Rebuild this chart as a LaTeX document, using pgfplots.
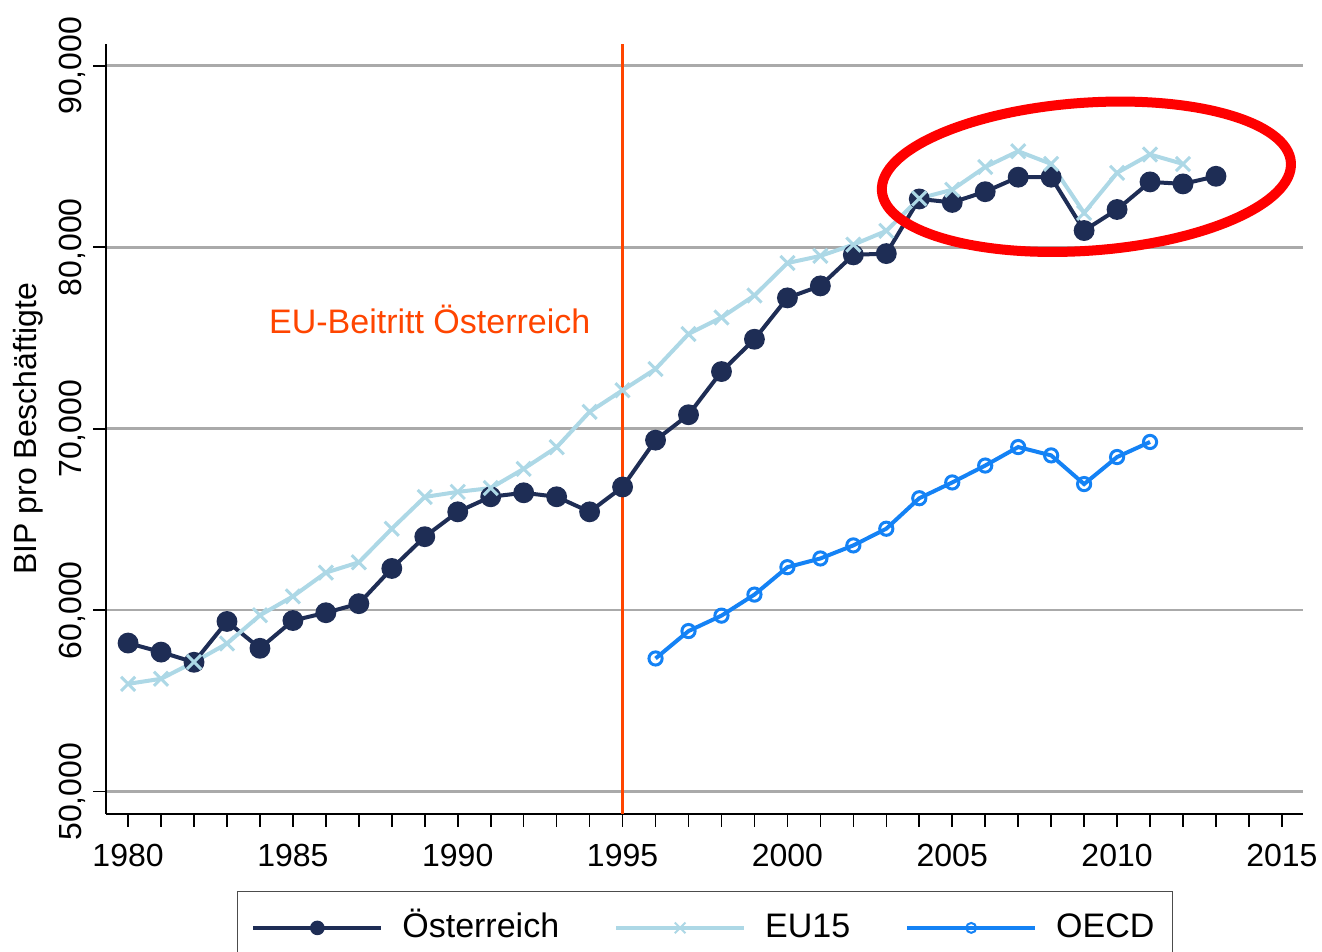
\documentclass[border=0pt]{standalone}
\usepackage{fontspec}
\setmainfont{Liberation Sans}
\usepackage{pgfplots}
\pgfplotsset{compat=1.18}
\usetikzlibrary{shapes.geometric}
\definecolor{oenavy}{RGB}{30,45,85}
\definecolor{eublue}{RGB}{173,216,230}
\definecolor{oecdblue}{RGB}{20,130,245}
\definecolor{eured}{RGB}{255,69,0}
\definecolor{gridgray}{RGB}{170,170,170}

\begin{document}
\begin{tikzpicture}
\begin{axis}[
  scale only axis, width=598.5pt, height=385pt,
  xmin=1979.33, xmax=2015.64, ymin=48770, ymax=91200,
  axis x line*=bottom, axis y line*=left,
  axis line style={black, line width=0.8pt},
  xtick={1980,1985,...,2015}, minor x tick num=4,
  ytick={50000,60000,...,90000},
  tick align=outside, major tick length=6.5pt, minor tick length=6.5pt,
  tick style={black, line width=0.8pt},
  ymajorgrids, grid style={gridgray, line width=1.3pt},
  scaled y ticks=false,
  /pgf/number format/assume math mode=true,
  tick label style={font=\fontsize{16}{19}\selectfont},
  x tick label style={/pgf/number format/1000 sep=, yshift=-5pt},
  y tick label style={/pgf/number format/1000 sep={,}, rotate=90, anchor=south},
  ylabel={BIP pro Beschäftigte},
  ylabel style={font=\fontsize{16}{19}\selectfont,
    at={([xshift=-28pt]rel axis cs:0,0.5)}, anchor=south},
  legend columns=3,
  legend style={at={(rel axis cs:0.1094,0)}, anchor=north west, yshift=-38.5pt,
    draw=black!70, font=\fontsize{17}{20}\selectfont,
    inner xsep=7pt, inner ysep=8.5pt,
    nodes={text height=12.5pt, text depth=3pt},
    /tikz/every odd column/.append style={column sep=7.5pt},
    /tikz/every even column/.append style={column sep=25.5pt}},
  legend image code/.code={\draw[mark repeat=2, mark phase=2,
      every mark/.append style={scale=0.75, line width=1pt}]
    plot coordinates {(0pt,0pt) (32pt,0pt) (64pt,0pt)};},
]
\coordinate (SW) at (rel axis cs:0,0);
\coordinate (NE) at (rel axis cs:1,1);

% Oesterreich
\addplot[oenavy, line width=2pt, mark=*, mark size=4.2pt] coordinates {
  (1980,58190)(1981,57690)(1982,57130)(1983,59380)(1984,57900)
  (1985,59430)(1986,59860)(1987,60360)(1988,62300)(1989,64050)
  (1990,65420)(1991,66250)(1992,66470)(1993,66250)(1994,65420)
  (1995,66790)(1996,69370)(1997,70770)(1998,73150)(1999,74930)
  (2000,77210)(2001,77870)(2002,79580)(2003,79650)(2004,82660)
  (2005,82470)(2006,83060)(2007,83860)(2008,83860)(2009,80920)
  (2010,82080)(2011,83600)(2012,83490)(2013,83910)
};
\addlegendentry{Österreich}

% EU15
\addplot[eublue, line width=2pt, mark=x, mark size=5pt,
  mark options={line width=1.5pt}] coordinates {
  (1980,55940)(1981,56220)(1982,57140)(1983,58160)(1984,59720)
  (1985,60760)(1986,62070)(1987,62640)(1988,64490)(1989,66240)
  (1990,66520)(1991,66730)(1992,67790)(1993,68980)(1994,70930)
  (1995,72120)(1996,73290)(1997,75220)(1998,76130)(1999,77340)
  (2000,79130)(2001,79520)(2002,80140)(2003,80900)(2004,82690)
  (2005,83170)(2006,84420)(2007,85290)(2008,84590)(2009,81890)
  (2010,84100)(2011,85110)(2012,84590)
};
\addlegendentry{EU15}

% OECD
\addplot[oecdblue, line width=2pt, mark=o, mark size=3.3pt,
  mark options={line width=1.5pt}] coordinates {
  (1996,57340)(1997,58850)(1998,59700)(1999,60860)(2000,62370)
  (2001,62850)(2002,63570)(2003,64490)(2004,66170)(2005,67040)
  (2006,67970)(2007,68990)(2008,68530)(2009,66950)(2010,68440)
  (2011,69270)
};
\addlegendentry{OECD}

\draw[eured, line width=1.2pt] ({axis cs:1995,0}|-{rel axis cs:0,0})
  -- ({axis cs:1995,0}|-{rel axis cs:0,1});
\node[anchor=base, text=eured, font=\fontsize{17}{20}\selectfont]
  at (axis cs:1989.15,75234) {EU-Beitritt Österreich};
\node[draw=red, ellipse, line width=5pt, rotate=4, minimum width=205pt,
  minimum height=74pt, inner sep=0pt] at (axis cs:2009.07,83884) {};
\end{axis}
\pgfresetboundingbox
\path[use as bounding box] ([shift={(-53pt,-69pt)}]SW) rectangle ([shift={(9.5pt,22pt)}]NE);
\end{tikzpicture}
\end{document}
